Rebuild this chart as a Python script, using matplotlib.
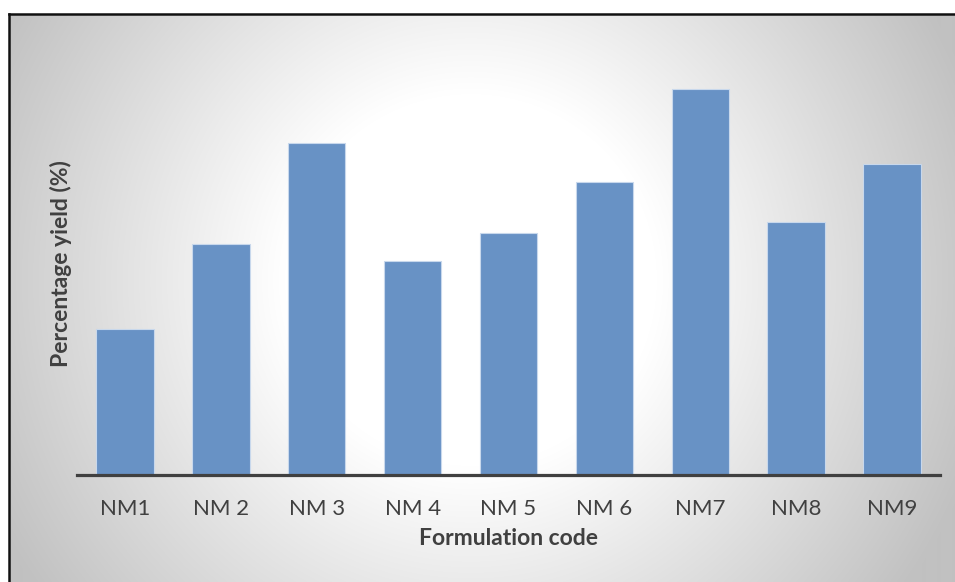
import numpy as np
import matplotlib.pyplot as plt

# data (y axis assumed 0-100, no ticks shown)
codes = ['NM1', 'NM 2', 'NM 3', 'NM 4', 'NM 5', 'NM 6', 'NM7', 'NM8', 'NM9']
yields = [35.9, 56.8, 81.7, 52.6, 59.5, 72.1, 95.0, 62.2, 76.6]

W, H = 955, 582
fig = plt.figure(figsize=(W / 100, H / 100), dpi=100)
fig.patch.set_facecolor('white')

# radial grey-to-white background inside the frame
fx0, fy0 = 9, 14
bg = fig.add_axes([fx0 / W, 0, 1 - fx0 / W, (H - fy0) / H])
xs = np.arange(fx0, W)
ys = np.arange(fy0, H)
X, Y = np.meshgrid(xs, ys)
cx, cy = 470, 280
r = np.hypot(X - cx, Y - cy) / np.hypot(cx - fx0, cy - fy0)
t = np.clip((r - 0.35) / 0.65, 0, 1)
g = 1 - t * (62 / 255)
img = np.dstack([g, g, g])
bg.imshow(img, aspect='auto', interpolation='bilinear')
bg.set_axis_off()
bg.set_zorder(0)
# frame lines (left and top)
fig.add_artist(plt.Line2D([fx0 / W, fx0 / W], [0, 1 - fy0 / H], color='#111111', lw=1.8))
fig.add_artist(plt.Line2D([fx0 / W, 1], [1 - fy0 / H, 1 - fy0 / H], color='#111111', lw=1.8))

plt.rcParams['font.family'] = ['Lato', 'DejaVu Sans']

ax = fig.add_axes([77 / W, (H - 475) / H, (940 - 77) / W, (475 - 69) / H])
ax.set_zorder(1)
ax.patch.set_alpha(0)

x = np.arange(len(codes))
ax.bar(x, yields, width=0.6, color='#6892c5', edgecolor='#c8d8ec', linewidth=0.8, zorder=2)

ax.set_xlim(-0.5, len(codes) - 0.5)
ax.set_ylim(0, 100)
ax.set_xticks(x)
ax.set_xticklabels(codes, fontsize=16, color='#404040')
ax.tick_params(axis='x', length=0, pad=17)
ax.set_yticks([])

for s in ['top', 'right', 'left']:
    ax.spines[s].set_visible(False)
ax.spines['bottom'].set_color('#404040')
ax.spines['bottom'].set_linewidth(2.3)
ax.spines['bottom'].set_zorder(3)

ax.set_xlabel('Formulation code', fontsize=16.5, fontweight='bold', color='#404040', va='top')
ax.xaxis.set_label_coords(0.5, -0.13)
ax.set_ylabel('Percentage yield (%)', fontsize=16.5, fontweight='bold', color='#404040')
ax.yaxis.set_label_coords(-0.006, 0.52)

fig.savefig('out.png', dpi=100)
